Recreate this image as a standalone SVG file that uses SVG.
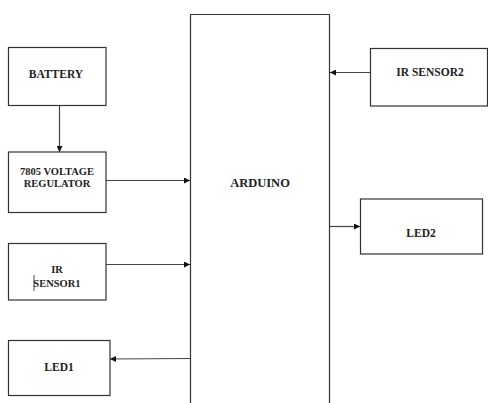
<svg xmlns="http://www.w3.org/2000/svg" width="488" height="403" viewBox="0 0 488 403">
<defs>
<marker id="ah" markerWidth="6" markerHeight="6" refX="6" refY="3" orient="auto" markerUnits="userSpaceOnUse">
<path d="M0,0 L6,3 L0,6 z" fill="#111"/>
</marker>
<style>
.box{fill:#fff;stroke:#333;stroke-width:1.2}
.lbl{font-weight:bold;font-size:11.5px;fill:#222;text-anchor:middle}
.con{stroke:#444;stroke-width:1.2;fill:none;marker-end:url(#ah)}
</style>
</defs>
<rect width="488" height="403" fill="#fff"/>
<g font-family="'Liberation Serif', 'Times New Roman', 'DejaVu Serif', serif">
<g id="arduino">
<path class="box" d="M190.5,410 V14.5 H329.5 V410"/>
<text class="lbl" x="260" y="187" style="font-size:12.5px">ARDUINO</text>
</g>
<g id="battery">
<rect class="box" x="8.5" y="47.5" width="97.5" height="58"/>
<text class="lbl" x="56" y="77.5">BATTERY</text>
</g>
<g id="regulator">
<rect class="box" x="8.5" y="152" width="97.5" height="60.5"/>
<text class="lbl" x="57" y="175" style="font-size:10.5px">7805 VOLTAGE</text>
<text class="lbl" x="57" y="187" style="font-size:10.5px">REGULATOR</text>
</g>
<g id="irsensor1">
<rect class="box" x="8.5" y="243.5" width="97.5" height="56.5"/>
<text class="lbl" x="57" y="272.5" style="font-size:10.5px">IR</text>
<text class="lbl" x="57" y="286.5" style="font-size:10.5px">SENSOR1</text>
<line x1="34" y1="275" x2="34" y2="291" stroke="#222" stroke-width="0.8"/>
</g>
<g id="led1">
<rect class="box" x="8.5" y="340.5" width="101.5" height="55"/>
<text class="lbl" x="59" y="371">LED1</text>
</g>
<g id="irsensor2">
<rect class="box" x="370.5" y="48.5" width="117" height="57.5"/>
<text class="lbl" x="430" y="76">IR SENSOR2</text>
</g>
<g id="led2">
<rect class="box" x="360.5" y="199" width="122" height="55"/>
<text class="lbl" x="421" y="237">LED2</text>
</g>
</g>
<g id="connectors">
<line class="con" x1="59.5" y1="106" x2="59.5" y2="152"/>
<line class="con" x1="106" y1="180.5" x2="190" y2="180.5"/>
<line class="con" x1="106" y1="264.5" x2="190" y2="264.5"/>
<line class="con" x1="190" y1="358.5" x2="110" y2="359"/>
<line class="con" x1="370" y1="72.5" x2="330" y2="72.5"/>
<line class="con" x1="330" y1="226.5" x2="360" y2="226.5"/>
</g>
</svg>
